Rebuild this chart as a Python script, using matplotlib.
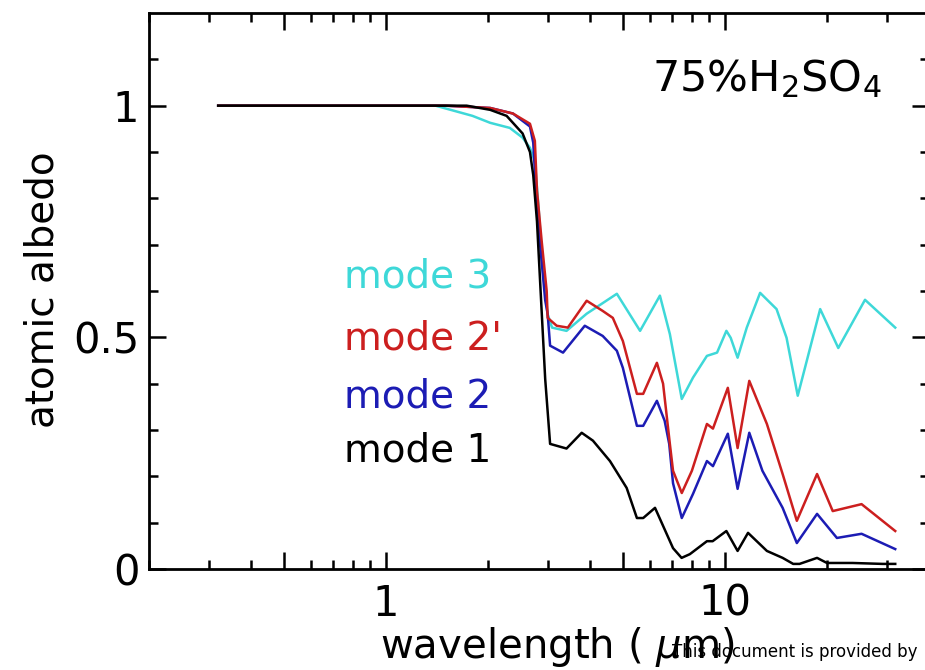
"""Atomic albedo of 75% H2SO4 droplets vs wavelength for the four size modes."""

import matplotlib

matplotlib.use("Agg")
import matplotlib.pyplot as plt  # noqa: E402
from matplotlib.ticker import FixedLocator, FixedFormatter, NullFormatter  # noqa: E402

# values (wavelength in um, albedo)
MODE1_WL = [0.32, 1.0, 1.5, 1.73, 2.03, 2.27, 2.53, 2.66, 2.72, 2.79, 2.85, 2.95, 3.05,
            3.41, 3.78, 4.08, 4.58, 5.13, 5.5, 5.74, 6.22, 7.03, 7.45, 7.88, 8.85, 9.2,
            10.1, 10.9, 11.7, 13.3, 14.8, 15.9, 16.6, 18.7, 20.0, 23.8, 29.2, 31.8]
MODE1_VAL = [1.0, 1.0, 1.0, 1.0, 0.991, 0.978, 0.94, 0.90, 0.85, 0.75, 0.62, 0.41, 0.27,
             0.26, 0.294, 0.277, 0.233, 0.175, 0.11, 0.11, 0.132, 0.045, 0.024, 0.032, 0.06, 0.06,
             0.082, 0.039, 0.078, 0.039, 0.024, 0.011, 0.011, 0.024, 0.013, 0.013, 0.011, 0.011]

MODE2P_WL = [0.32, 1.5, 2.03, 2.37, 2.66, 2.75, 2.79, 2.88, 2.98, 3.0, 3.19, 3.44, 3.91,
             4.36, 4.67, 5.0, 5.5, 5.74, 6.3, 6.57, 6.88, 7.03, 7.46, 7.99, 8.85, 9.22,
             10.2, 10.9, 11.8, 13.3, 14.8, 16.3, 18.7, 20.8, 25.3, 31.8]
MODE2P_VAL = [1.0, 1.0, 0.995, 0.983, 0.961, 0.924, 0.816, 0.708, 0.60, 0.542, 0.525, 0.521, 0.579,
              0.557, 0.542, 0.492, 0.378, 0.378, 0.445, 0.40, 0.27, 0.212, 0.164, 0.212, 0.313, 0.303,
              0.391, 0.261, 0.406, 0.313, 0.205, 0.104, 0.205, 0.125, 0.140, 0.082]

MODE2_WL = [0.32, 1.5, 2.03, 2.37, 2.66, 2.72, 2.77, 2.85, 2.95, 3.0, 3.05, 3.33, 3.86,
            4.36, 4.8, 5.0, 5.5, 5.74, 6.3, 6.64, 6.85, 7.03, 7.46, 8.05, 8.85, 9.22,
            10.2, 10.9, 11.8, 12.9, 14.8, 16.3, 18.7, 21.4, 25.3, 31.8]
MODE2_VAL = [1.0, 1.0, 0.995, 0.983, 0.955, 0.92, 0.82, 0.70, 0.58, 0.55, 0.482, 0.467, 0.525,
             0.503, 0.471, 0.434, 0.309, 0.309, 0.363, 0.32, 0.27, 0.185, 0.110, 0.162, 0.233, 0.222,
             0.292, 0.173, 0.294, 0.212, 0.132, 0.056, 0.119, 0.067, 0.076, 0.043]

MODE3_WL = [0.32, 1.4, 1.8, 2.03, 2.32, 2.53, 2.66, 2.75, 2.82, 2.9, 3.0, 3.09, 3.41,
            3.91, 4.8, 5.62, 6.43, 6.88, 7.46, 8.05, 8.85, 9.48, 10.1, 10.4, 10.9, 11.6,
            12.7, 14.2, 15.2, 16.4, 19.1, 21.6, 25.9, 31.8]
MODE3_VAL = [1.0, 1.0, 0.978, 0.963, 0.952, 0.931, 0.909, 0.88, 0.78, 0.65, 0.55, 0.521, 0.514,
             0.551, 0.594, 0.514, 0.590, 0.507, 0.367, 0.413, 0.46, 0.467, 0.514, 0.499, 0.456, 0.521,
             0.596, 0.561, 0.499, 0.374, 0.561, 0.477, 0.581, 0.521]

X_MAJOR = [0.5, 1, 5, 10]
X_MAJOR_LABELS = ["", "1", "", "10"]
X_MINOR = [0.2, 0.3, 0.4, 0.6, 0.7, 0.8, 0.9, 2, 3, 4, 6, 7, 8, 9, 20, 30, 40]
Y_MAJOR = [0, 0.5, 1]
Y_MAJOR_LABELS = ["0", "0.5", "1"]
Y_MINOR = [0.1, 0.2, 0.3, 0.4, 0.6, 0.7, 0.8, 0.9, 1.1]

CYAN = "#3ed8d8"
RED = "#cc1f1f"
BLUE = "#1c1cb4"
BLACK = "#000000"

W, H = 925, 670


def main() -> int:
    fig = plt.figure(figsize=(W / 100, H / 100), dpi=100)
    ax = fig.add_axes([149 / W, (H - 569) / H, 780 / W, 556 / H])

    ax.plot(MODE3_WL, MODE3_VAL, color=CYAN, linewidth=1.8)
    ax.plot(MODE2_WL, MODE2_VAL, color=BLUE, linewidth=1.8)
    ax.plot(MODE2P_WL, MODE2P_VAL, color=RED, linewidth=1.8)
    ax.plot(MODE1_WL, MODE1_VAL, color=BLACK, linewidth=1.8)

    ax.set_xscale("log")
    ax.set_xlim(0.2, 40)
    ax.set_ylim(0, 1.2)

    ax.xaxis.set_major_locator(FixedLocator(X_MAJOR))
    ax.xaxis.set_major_formatter(FixedFormatter(X_MAJOR_LABELS))
    ax.xaxis.set_minor_locator(FixedLocator(X_MINOR))
    ax.xaxis.set_minor_formatter(NullFormatter())
    ax.yaxis.set_major_locator(FixedLocator(Y_MAJOR))
    ax.yaxis.set_major_formatter(FixedFormatter(Y_MAJOR_LABELS))
    ax.yaxis.set_minor_locator(FixedLocator(Y_MINOR))

    ax.tick_params(which="both", direction="in", top=True, right=True, width=1.8, color="black")
    ax.tick_params(which="major", length=12.5, labelsize=30)
    ax.tick_params(which="minor", length=6.5)
    ax.tick_params(axis="x", which="major", pad=10)
    ax.tick_params(axis="y", which="major", pad=7)
    for spine in ax.spines.values():
        spine.set_linewidth(2.0)

    def px(x, y):
        return x / W, (H - y) / H

    fig.text(*px(652, 91), "75%H$_2$SO$_4$", fontsize=31, ha="left", va="baseline")
    fig.text(*px(344, 287), "mode 3", fontsize=28, color=CYAN, ha="left", va="baseline")
    fig.text(*px(344, 350), "mode 2'", fontsize=28, color=RED, ha="left", va="baseline")
    fig.text(*px(344, 407), "mode 2", fontsize=28, color=BLUE, ha="left", va="baseline")
    fig.text(*px(344, 462), "mode 1", fontsize=28, color=BLACK, ha="left", va="baseline")

    fig.text(*px(43, 290), "atomic albedo", fontsize=28, rotation=90, ha="center", va="center")
    fig.text(*px(380, 658), "wavelength ( $\\mu$m)", fontsize=29, ha="left", va="baseline")
    fig.text(*px(672, 657), "This document is provided by", fontsize=12, ha="left", va="baseline")

    fig.savefig("out.png", dpi=100)
    plt.close(fig)
    return 0


if __name__ == "__main__":
    raise SystemExit(main())
